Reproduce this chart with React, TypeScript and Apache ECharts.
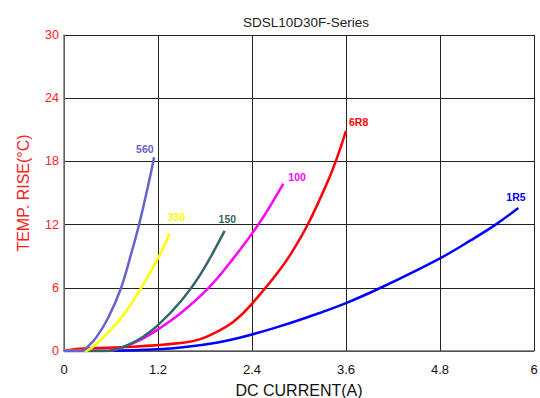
import React, { useEffect, useRef } from "react";
import * as echarts from "echarts";

const s560: [number, number][] = [[0, 0], [0.23, 0], [0.29, 0.32], [0.41, 1.27], [0.566, 3.18], [0.727, 5.96], [0.86, 9.3], [0.955, 11.9], [1.08, 15.9], [1.15, 18.4]];
const s330: [number, number][] = [[0, 0], [0.27, 0], [0.355, 0.32], [0.5, 1.27], [0.735, 3.18], [0.97, 5.8], [1.2, 8.8], [1.35, 11.15]];
const s150: [number, number][] = [[0, 0], [0.55, 0], [0.63, 0.1], [0.82, 0.57], [1.01, 1.36], [1.2, 2.45], [1.5, 4.8], [1.74, 7.25], [2.05, 11.4]];
const s100: [number, number][] = [[0, 0], [0.55, 0], [0.71, 0.25], [0.97, 1.04], [1.2, 2.05], [1.5, 3.66], [1.84, 5.94], [2.12, 8.4], [2.48, 12], [2.8, 15.9]];
const s6R8: [number, number][] = [[0, 0], [0.2, 0.22], [0.88, 0.41], [1.52, 0.79], [1.73, 1.1], [1.945, 1.8], [2.16, 2.75], [2.39, 4.4], [2.9, 9.27], [3.35, 15.8], [3.6, 20.9]];
const s1R5: [number, number][] = [[0, 0], [0.6, 0.02], [1.2, 0.16], [1.52, 0.35], [1.945, 0.79], [2.24, 1.26], [2.67, 2.15], [3.09, 3.16], [3.6, 4.55], [4.07, 6.1], [4.8, 8.8], [5.19, 10.5], [5.51, 12], [5.8, 13.58]];

const seriesNames = ["560", "330", "150", "100", "6R8", "1R5"];
const seriesData = [s560, s330, s150, s100, s6R8, s1R5];
const seriesColors = ["#6464cc", "#ffff00", "#336666", "#ff00ff", "#ff0000", "#0000ff"];
const labelOffsets: [number, number][] = [[-18, -8], [-2, -17], [-6, -12], [5, -7], [3, -9], [-12, -11]];

const xTicks = { min: 0, max: 6, interval: 1.2 };
const yTicks = { min: 0, max: 30, interval: 6 };

export default function App() {
  const ref = useRef<HTMLDivElement>(null);
  useEffect(() => {
    document.body.style.margin = "0";
    if (!ref.current) return;
    const chart = echarts.init(ref.current, undefined, { renderer: "svg" });
    chart.setOption({
      animation: false,
      textStyle: { fontFamily: "Liberation Sans, Arial, sans-serif" },
      title: {
        text: "SDSL10D30F-Series",
        left: 238,
        top: 10,
        textStyle: { fontSize: 13.5, fontWeight: "normal", color: "#222" },
      },
      grid: { left: 64, right: 6, top: 35, bottom: 47, show: false, outerBoundsMode: "none", containLabel: false },
      xAxis: {
        type: "value",
        min: xTicks.min,
        max: xTicks.max,
        interval: xTicks.interval,
        name: "DC CURRENT(A)",
        nameLocation: "middle",
        nameGap: 31,
        nameTextStyle: { fontSize: 16, color: "#111" },
        axisLine: { show: true, lineStyle: { color: "#666", width: 1.5 } },
        axisTick: { show: false },
        axisLabel: {
          fontSize: 13,
          color: "#111",
          margin: 12,
          formatter: (v: number) => String(+v.toFixed(1)),
        },
        splitLine: { show: true, lineStyle: { color: "#222", width: 1 } },
      },
      yAxis: {
        type: "value",
        min: yTicks.min,
        max: yTicks.max,
        interval: yTicks.interval,
        name: "TEMP. RISE(°C)",
        nameLocation: "middle",
        nameGap: 33,
        nameTextStyle: { fontSize: 16, color: "#ff2020" },
        axisLine: { show: true, lineStyle: { color: "#777", width: 1.5 } },
        axisTick: { show: false },
        axisLabel: { fontSize: 12.5, color: "#ff2020", margin: 5 },
        splitLine: { show: true, lineStyle: { color: "#222", width: 1 } },
      },
      series: seriesNames.map((name, i) => ({
        name,
        type: "line",
        data: seriesData[i],
        smooth: 0.4,
        showSymbol: false,
        lineStyle: { color: seriesColors[i], width: 2.5 },
        itemStyle: { color: seriesColors[i] },
        z: 10 - i,
        endLabel: {
          show: true,
          formatter: name,
          distance: 0,
          align: "left",
          verticalAlign: "middle",
          offset: labelOffsets[i],
          color: seriesColors[i],
          fontSize: 10.5,
          fontWeight: "bold",
        },
      })),
    });
    return () => chart.dispose();
  }, []);
  return <div ref={ref} style={{ width: 540, height: 398 }} />;
}
